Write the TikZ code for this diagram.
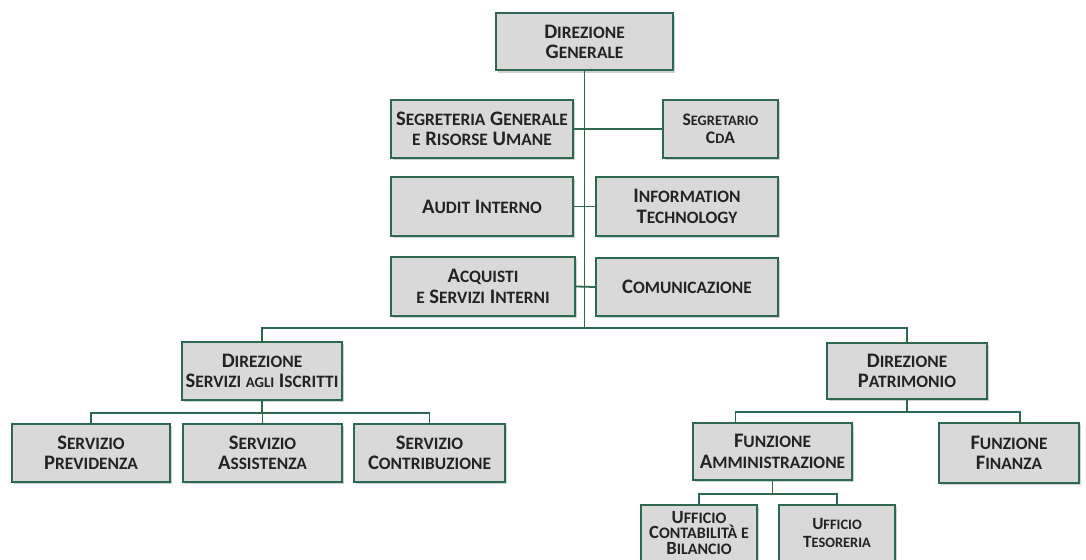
\documentclass[tikz,border=0pt]{standalone}
\usepackage{fontspec}
\setmainfont{Carlito}
\usetikzlibrary{shadows}

\definecolor{boxgreen}{RGB}{46,104,78}
\definecolor{boxgray}{RGB}{217,217,217}
\definecolor{txtgray}{RGB}{35,35,35}

% small capitals by hand
\newcommand{\lc}[1]{{\fontsize{8.7}{10}\selectfont #1}}
\newcommand{\lcx}[1]{{\fontsize{7.4}{10}\selectfont #1}}
\newcommand{\lcs}[1]{{\fontsize{7.2}{7.5}\selectfont #1}}
\newcommand{\lcu}[1]{{\fontsize{8}{7.5}\selectfont #1}}

\tikzset{
  unit/.style={draw=boxgreen, fill=boxgray, line width=1pt, align=center, inner sep=0pt,
    text=txtgray, minimum height=29pt, font=\bfseries\fontsize{10.3}{10.2}\selectfont,
    drop shadow={shadow xshift=1.2pt, shadow yshift=-1.2pt, fill=black!30, opacity=0.6}},
  smallunit/.style={unit, font=\bfseries\fontsize{8.6}{7.8}\selectfont},
  link/.style={draw=boxgreen, line width=0.9pt}
}

\begin{document}
\begin{tikzpicture}[x=0.5pt, y=-0.5pt]

\clip (0,0) rectangle (1086,560);
\fill[white] (0,0) rectangle (1086,560);

% top
\node[unit, minimum width=88.5pt, minimum height=28.5pt] (dg) at (584.5,42) {D\lc{IREZIONE}\\G\lc{ENERALE}};

\node[unit, minimum width=91pt] (sgr) at (482,129) {S\lc{EGRETERIA} G\lc{ENERALE}\\\lc{E} R\lc{ISORSE} U\lc{MANE}};
\node[smallunit, minimum width=57.5pt, font=\bfseries\fontsize{8.8}{9}\selectfont] (cda) at (720.5,129) {S\lcs{EGRETARIO}\\C\lcs{D}A};

\node[unit, minimum width=91pt, minimum height=29.5pt] (aud) at (482,206.5) {A\lc{UDIT} I\lc{NTERNO}};
\node[unit, minimum width=91pt, minimum height=29.5pt] (it) at (687,206.5) {I\lc{NFORMATION}\\T\lc{ECHNOLOGY}};

\node[unit, minimum width=92pt, minimum height=29.5pt] (acq) at (483,286.5) {A\lc{CQUISTI}\\\lc{E} S\lc{ERVIZI} I\lc{NTERNI}};
\node[unit, minimum width=91pt] (com) at (687,287) {C\lc{OMUNICAZIONE}};

% left branch
\node[unit, minimum width=80pt] (dsi) at (262,371) {D\lc{IREZIONE}\\S\lc{ERVIZI} \lcx{AGLI} I\lc{SCRITTI}};
\node[unit, minimum width=79pt] (sprev) at (91,453) {S\lc{ERVIZIO}\\P\lc{REVIDENZA}};
\node[unit, minimum width=79.5pt] (sass) at (262.5,453) {S\lc{ERVIZIO}\\A\lc{SSISTENZA}};
\node[unit, minimum width=75.5pt] (scon) at (429.5,453) {S\lc{ERVIZIO}\\C\lc{ONTRIBUZIONE}};

% right branch
\node[unit, minimum width=80pt, minimum height=28pt] (dp) at (907,371) {D\lc{IREZIONE}\\P\lc{ATRIMONIO}};
\node[unit, minimum width=79.5pt, minimum height=28.5pt] (fam) at (772.5,451.5) {F\lc{UNZIONE}\\A\lc{MMINISTRAZIONE}};
\node[unit, minimum width=70pt, minimum height=30pt] (ffin) at (1009,453) {F\lc{UNZIONE}\\F\lc{INANZA}};
\node[smallunit, minimum width=58pt, minimum height=28pt, font=\bfseries\fontsize{9.3}{7.9}\selectfont] (ucb) at (699,533) {U\lcu{FFICIO}\\C\lcu{ONTABILITÀ E}\\B\lcu{ILANCIO}};
\node[smallunit, minimum width=58pt, minimum height=28pt] (ute) at (837,533) {U\lcs{FFICIO}\\[1.5pt]T\lcs{ESORERIA}};

% connectors
\coordinate (bus) at (584.5,328);
\draw[link] (dg.south) -- (bus);
\draw[link] (sgr.east) -- (cda.west);
\draw[link] (aud.east) -- (it.west);
\draw[link] (acq.east) -- (com.west);
\draw[link] (bus) -| (dsi.north);
\draw[link] (bus) -| (dp.north);
\draw[link] (dsi.south) -- ++(0,12) -| (sprev.north);
\draw[link] (dsi.south) -- ++(0,12) -| (sass.north);
\draw[link] (dsi.south) -- ++(0,12) -| (scon.north);
\draw[link] (dp.south) -- ++(0,12) -| ([xshift=-18.5pt]fam.north);
\draw[link] (dp.south) -- ++(0,12) -| ([xshift=5.5pt]ffin.north);
\draw[link] (fam.south) -- ++(0,13) -| (ucb.north);
\draw[link] (fam.south) -- ++(0,13) -| (ute.north);

\end{tikzpicture}
\end{document}
